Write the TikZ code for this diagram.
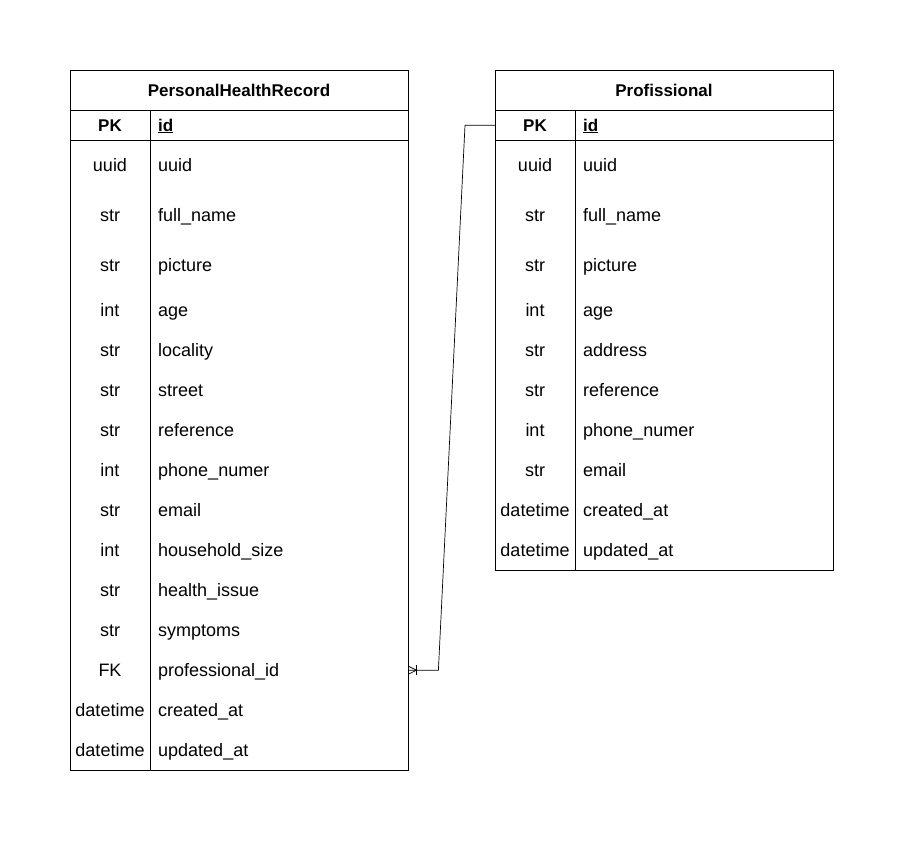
\documentclass[tikz,border=0pt]{standalone}
\usepackage{fontspec}
\setmainfont{Liberation Sans}
\usetikzlibrary{calc}
\begin{document}
\begin{tikzpicture}[x=1pt,y=-1pt,
  tbl/.style={draw=black,line width=0.8pt,minimum width=338pt,anchor=north west,inner sep=0pt},
  rowbox/.style={minimum width=338pt,anchor=north west,inner sep=0pt},
  ttl/.style={font=\bfseries\fontsize{17}{20}\selectfont,anchor=base,inner sep=0pt},
  typ/.style={font=\fontsize{18}{21}\selectfont,anchor=base,inner sep=0pt},
  fld/.style={font=\fontsize{18}{21}\selectfont,anchor=base west,inner sep=0pt},
  pk/.style={font=\bfseries\fontsize{17}{20}\selectfont,anchor=base,inner sep=0pt},
  conn/.style={draw=black,line width=0.7pt}]
\useasboundingbox (0,0) rectangle (904,841);
% ---------- PersonalHealthRecord ----------
\node[tbl,minimum height=700pt] (phr) at (70,70) {};
\node[ttl] (phrtitle) at (239,96) {PersonalHealthRecord};
\draw[line width=0.8pt] (70,110) -- (408,110) (70,140) -- (408,140) (150,110) -- (150,770);
\node[pk] (phrpk) at (110,131) {PK};
\node[pk,anchor=base west] (phrid) at (158,131) {\underline{id}};
\node[rowbox,minimum height=40pt] (phrfkrow) at (70,650) {};
\foreach \t/\f/\y [count=\i] in {uuid/uuid/165, str/full\_name/215, str/picture/265, int/age/310,
  str/locality/350, str/street/390, str/reference/430, int/phone\_numer/470, str/email/510,
  int/household\_size/550, str/health\_issue/590, str/symptoms/630, FK/professional\_id/670,
  datetime/created\_at/710, datetime/updated\_at/750}{
  \node[typ] (phrt\i) at (110,\y+6.5) {\t};
  \node[fld] (phrf\i) at (158,\y+6.5) {\f};
}
% ---------- Profissional ----------
\node[tbl,minimum height=500pt] (prof) at (495,70) {};
\node[ttl] (proftitle) at (664,96) {Profissional};
\draw[line width=0.8pt] (495,110) -- (833,110) (495,140) -- (833,140) (575,110) -- (575,570);
\node[pk] (profpk) at (535,131) {PK};
\node[pk,anchor=base west] (profid) at (583,131) {\underline{id}};
\node[rowbox,minimum height=30pt] (profpkrow) at (495,110) {};
\foreach \t/\f/\y [count=\i] in {uuid/uuid/165, str/full\_name/215, str/picture/265, int/age/310,
  str/address/350, str/reference/390, int/phone\_numer/430, str/email/470,
  datetime/created\_at/510, datetime/updated\_at/550}{
  \node[typ] (proft\i) at (535,\y+6.5) {\t};
  \node[fld] (proff\i) at (583,\y+6.5) {\f};
}
% ---------- connector ----------
\coordinate (bend1) at ($(profpkrow.west)+(-30,0)$);
\coordinate (bend2) at ($(phrfkrow.east)+(30,0)$);
\draw[conn] (profpkrow.west) -- (bend1) -- (bend2) -- (phrfkrow.east);
\draw[conn] ($(phrfkrow.east)+(0,-4)$) -- ($(phrfkrow.east)+(8,0)$) -- ($(phrfkrow.east)+(0,4)$);
\draw[conn] ($(phrfkrow.east)+(8,-5)$) -- ($(phrfkrow.east)+(8,5)$);
\end{tikzpicture}
\end{document}
